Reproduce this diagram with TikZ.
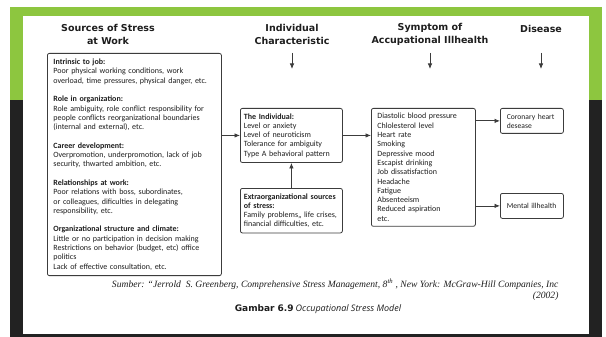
\documentclass[tikz,border=0pt]{standalone}
\usepackage{fontspec}
\setmainfont{Carlito}
\newfontfamily\headfont{DejaVu Sans}
\newfontfamily\citefont{Liberation Serif}
\newfontfamily\capfont{Open Sans}
\usetikzlibrary{arrows.meta,positioning}
\definecolor{slidegreen}{RGB}{141,198,63}
\definecolor{slidedark}{RGB}{34,34,34}
\definecolor{boxline}{RGB}{60,60,60}
\definecolor{inktext}{RGB}{30,30,30}

\tikzset{
  box/.style={draw=boxline, line width=0.8pt, rounded corners=2pt, align=left,
    inner xsep=6pt, inner ysep=5pt, anchor=north west, text=inktext,
    font=\fontsize{8}{9.3}\selectfont},
  smallbox/.style={box, inner xsep=3.5pt, text width=95pt},
  disbox/.style={box, inner xsep=6.5pt, text width=50pt, minimum height=25pt, inner ysep=2pt,
    font=\fontsize{7.6}{9}\selectfont},
  head/.style={font=\headfont\bfseries\fontsize{9.5}{12.5}\selectfont, align=center, text=inktext},
  flow/.style={-{Latex[length=5.5pt,width=4.5pt]}, line width=0.8pt, draw=boxline},
}

\begin{document}
\begin{tikzpicture}[x=1pt,y=-1pt]
            % slide frame
            \useasboundingbox (0,0) rectangle (606,337);
            \fill[slidegreen] (10,7) rectangle (602,100);
            \fill[slidedark] (10,100) rectangle (602,337);
            \fill[white] (23,16) rectangle (589,334);

            % column headings
            \node[head] (srchead) at (108,34.5) {Sources of Stress\\at Work};
            \node[head] (indhead) at (292,34.5) {Individual\\Characteristic};
            \node[head] (symhead) at (430,34.5) {Symptom of\\Accupational Illhealth};
            \node[head] (dishead) at (541,28.5) {Disease};

            \coordinate (hdtop) at (0,53);
            \coordinate (hdbot) at (0,69);
            \draw[flow] (indhead |- hdtop) -- (indhead |- hdbot);
            \draw[flow] (symhead |- hdtop) -- (symhead |- hdbot);
            \draw[flow] (dishead |- hdtop) -- (dishead |- hdbot);

            % sources of stress
            \node[box, text width=162pt, inner ysep=5.5pt] (sources) at (47,53) {\textbf{Intrinsic to job:}\\
              Poor physical working conditions, work\\
              overload, time pressures, physical danger, etc.\\[9.3pt]
              \textbf{Role in organization:}\\
              Role ambiguity, role conflict responsibility for\\
              people conflicts reorganizational boundaries\\
              (internal and external), etc.\\[9.3pt]
              \textbf{Career development:}\\
              Overpromotion, underpromotion, lack of job\\
              security, thwarted ambition, etc.\\[9.3pt]
              \textbf{Relationships at work:}\\
              Poor relations with boss, subordinates,\\
              or colleagues, dificulties in delegating\\
              responsibility, etc.\\[9.3pt]
              \textbf{Organizational structure and climate:}\\
              Little or no participation in decision making\\
              Restrictions on behavior (budget, etc) office\\
              politics\\
              Lack of effective consultation, etc.};

            % individual characteristic
            \node[smallbox] (individual) at (240,108) {\textbf{The Individual:}\\
              Level or anxiety\\
              Level of neuroticism\\
              Tolerance for ambiguity\\
              Type A behavioral pattern};
            \node[smallbox] (extra) at (240,188) {\textbf{Extraorganizational sources}\\
              \textbf{of stress:}\\
              Family problems,, life crises,\\
              financial difficulties, etc.};

            % symptoms
            \node[box, text width=92pt] (symptom) at (371,108) {Diastolic blood pressure\\
              Chlolesterol level\\
              Heart rate\\
              Smoking\\
              Depressive mood\\
              Escapist drinking\\
              Job dissatisfaction\\
              Headache\\
              Fatigue\\
              Absenteeism\\
              Reduced aspiration\\
              etc.};

            % disease
            \node[disbox] (coronary) at (500,108) {Coronary heart\\desease};
            \node[disbox] (mental) at (500,193) {Mental illhealth};

            \draw[flow] (sources.east |- individual.west) -- (individual.west);
            \draw[flow] (extra.north) -- (individual.south);
            \draw[flow] (individual.east) -- (individual.east -| symptom.west);
            \draw[flow] (symptom.east |- coronary.west) -- (coronary.west);
            \draw[flow] (symptom.east |- mental.west) -- (mental.west);

            % source and caption
            \node[anchor=north east, align=right, text=inktext,
              font=\citefont\itshape\fontsize{9.6}{11.5}\selectfont] (citation) at (562,275.5)
              {Sumber: “Jerrold\ \ S. Greenberg, Comprehensive Stress Management, 8\textsuperscript{th} , New York: McGraw-Hill Companies, Inc\\(2002)};
            \node[anchor=base, text=inktext, font=\fontsize{9}{10}\selectfont] (caption) at (318,311)
              {{\headfont\bfseries Gambar 6.9} {\capfont\itshape Occupational Stress Model}};
        \end{tikzpicture}
\end{document}
